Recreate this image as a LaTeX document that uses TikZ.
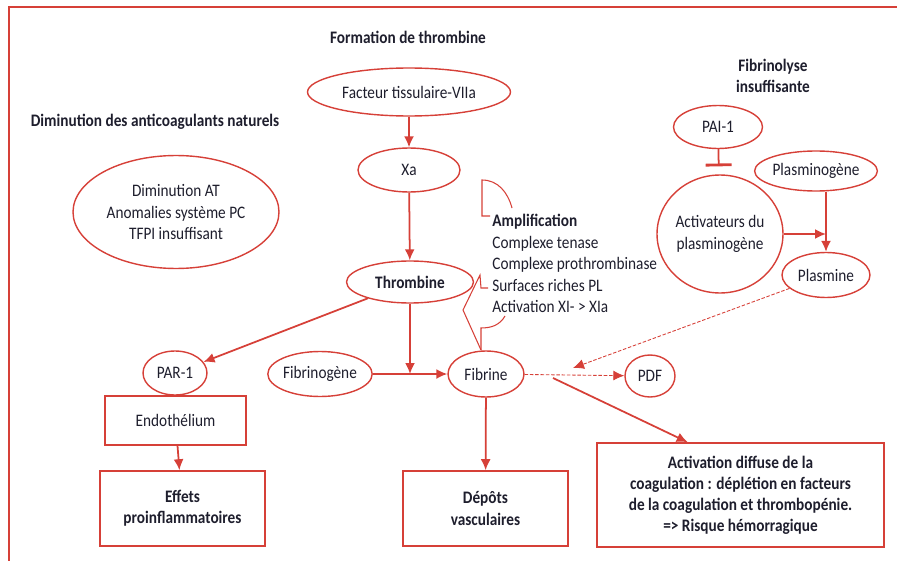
\documentclass[tikz,border=0pt]{standalone}
\usepackage{fontspec}
\setmainfont{Carlito}[FakeStretch=0.87]
\usetikzlibrary{positioning, arrows.meta, shapes.geometric, calc}
\definecolor{CoagRed}{RGB}{214, 64, 56}
\definecolor{CoagInk}{RGB}{30, 30, 45}

\tikzset{
  ell/.style={ellipse, draw=CoagRed, line width=0.8pt, inner sep=0pt, text=CoagInk},
  boite/.style={rectangle, draw=CoagRed, line width=0.9pt, inner sep=0pt, text=CoagInk, align=center},
  fleche/.style={-{Latex[length=2.2mm,width=2mm]}, draw=CoagRed, line width=1pt},
  tiret/.style={-{Latex[length=2.2mm,width=2mm]}, draw=CoagRed, line width=0.5pt, dash pattern=on 2pt off 1pt},
  titre/.style={font=\bfseries, text=CoagInk, align=center},
  trait/.style={draw=CoagRed, line width=0.6pt},
}

\begin{document}
\begin{tikzpicture}[x=0.02cm, y=-0.02cm, font=\fontsize{10}{12.2}\selectfont]
\useasboundingbox (0,0) rectangle (897,561);

% cadre
\draw[CoagRed, line width=0.8pt] (9,570) -- (9,7) -- (905,7);

% titres
\node[titre] (tformation) at (408,37) {Formation de thrombine};
\node[titre] (tdiminution) at (155,122) {Diminution des anticoagulants naturels};
\node[titre] (tfibrinolyse) at (773,76) {Fibrinolyse\\insuffisante};

% formation de thrombine
\node[ell, minimum width=4.06cm, minimum height=0.96cm] (facteur) at (409,92) {Facteur tissulaire-VIIa};
\node[ell, minimum width=2.04cm, minimum height=0.88cm] (xa) at (409,170) {Xa};
\node[ell, minimum width=2.54cm, minimum height=0.84cm, font=\bfseries] (thrombine) at (410,282) {Thrombine};
\node[ell, minimum width=4.12cm, minimum height=2.26cm, align=center] (dimin) at (176,212) {Diminution AT\\Anomalies système PC\\TFPI insuffisant};

\node[ell, minimum width=1.28cm, minimum height=0.88cm] (par) at (175,373) {PAR-1};
\node[boite, minimum width=2.82cm, minimum height=0.98cm] (endo) at (175.5,420.5) {Endothélium};
\node[boite, minimum width=3.3cm, minimum height=1.5cm, font=\bfseries] (effets) at (182.5,508.5) {Effets\\proinflammatoires};

\node[ell, minimum width=2.06cm, minimum height=0.9cm] (fibrinogene) at (320,374) {Fibrinogène};
\node[ell, minimum width=1.52cm, minimum height=0.92cm] (fibrine) at (486,374) {Fibrine};
\node[ell, minimum width=1.0cm, minimum height=0.84cm] (pdf) at (650,376) {PDF};
\node[boite, minimum width=3.3cm, minimum height=1.5cm, font=\bfseries] (depots) at (485.5,508.5) {Dépôts\\vasculaires};
\node[boite, minimum width=5.74cm, minimum height=2.08cm, font=\bfseries] (activ) at (740.5,495) {Activation diffuse de la\\coagulation : déplétion en facteurs\\de la coagulation et thrombopénie.\\=> Risque hémorragique};

\node[anchor=north west, align=left, text=CoagInk, inner sep=0pt] (ampli) at (492,214) {\textbf{Amplification}\\Complexe tenase\\Complexe prothrombinase\\Surfaces riches PL\\Activation XI- > XIa};

% fibrinolyse
\node[ell, minimum width=1.78cm, minimum height=0.86cm] (pai) at (718,127) {PAI-1};
\node[ell, minimum width=2.52cm, minimum height=2.36cm, align=center] (activateurs) at (720,234) {Activateurs du\\plasminogène};
\node[ell, minimum width=2.16cm, minimum height=0.8cm] (plasminogene) at (816,171) {Plasminogène};
\node[ell, minimum width=1.76cm, minimum height=0.9cm] (plasmine) at (826,275) {Plasmine};

\coordinate (lyse) at (573,368);
\coordinate (cid) at (553,378);

% fleches
\draw[fleche] (facteur) -- (xa);
\draw[fleche] (xa) -- (thrombine);
\draw[fleche] (thrombine) -- (par);
\draw[fleche] (thrombine) -- (thrombine |- fibrine);
\draw[fleche] (fibrinogene) -- (fibrine);
\draw[fleche] (endo) -- (effets);
\draw[fleche] (fibrine) -- (depots);
\draw[fleche] (cid) -- ($(activ.north west)!0.317!(activ.north east)$);
\draw[tiret] (fibrine) -- (pdf);
\draw[tiret] (plasmine) -- (lyse);

\draw[fleche] (plasmine.north |- plasminogene.south) -- (plasmine.north);
\draw[fleche] (activateurs.east) -- (activateurs.east -| plasmine.north);
\draw[CoagRed, line width=1pt, -{Bar[width=5.2mm, line width=1.6pt]}, shorten >=1.6mm] (pai) -- (activateurs);

% accolade amplification
\draw[trait] (490,216) -- (482,216) -- (482,180) to[out=0, in=105] (512,208);
\draw[trait] (488,288) -- (481,288) -- (480,275) -- (463,310) -- (481,350);
\draw[trait] (481,350) -- (481,328) to[out=0, in=-120] (505,316);

\end{tikzpicture}
\end{document}
